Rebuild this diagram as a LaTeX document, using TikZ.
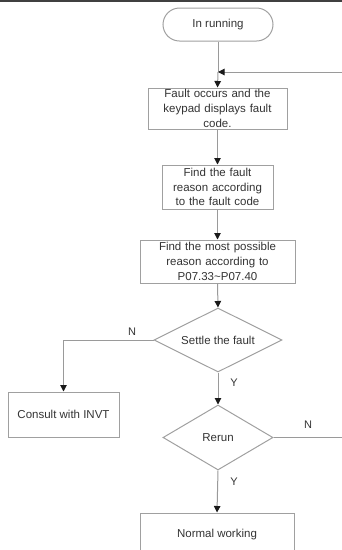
\documentclass[tikz,border=0pt]{standalone}
\usepackage{fontspec}
\setmainfont{Liberation Sans}
\usetikzlibrary{shapes.geometric,arrows.meta}
\definecolor{linegray}{HTML}{9A9A9A}
\definecolor{boxgray}{HTML}{A0A0A0}
\definecolor{textgray}{HTML}{333333}
\definecolor{tipgray}{HTML}{1A1A1A}
\begin{document}
\begin{tikzpicture}[x=1pt,y=-1pt,
  every node/.style={text=textgray,font=\fontsize{11.5}{14.8}\selectfont},
  boxnode/.style={draw=boxgray,line width=1pt,rectangle,inner sep=0pt,align=center},
  termnode/.style={draw=boxgray,line width=1pt,rectangle,rounded corners=16.5pt,inner sep=0pt,minimum width=110pt,minimum height=33pt},
  decnode/.style={draw=boxgray,line width=1pt,diamond,aspect=2,inner sep=0pt},
  conn/.style={draw=linegray,line width=1pt},
  arr/.style={conn,-{Triangle[width=6.5pt,length=6.5pt,fill=tipgray,color=tipgray]}},
  lbl/.style={font=\fontsize{11}{13}\selectfont}
]
\useasboundingbox (0,0) rectangle (342,550);
\draw[line width=2.4pt,color=black!75] (0,1) -- (342,1);

\node[termnode] (run) at (218,24.5) {In running};
\node[boxnode,minimum width=139pt,minimum height=41pt,text width=135pt] (b1) at (217.5,108.5) {Fault occurs and the\\keypad displays fault\\code.};
\node[boxnode,minimum width=111pt,minimum height=44pt,text width=108pt] (b2) at (217.5,187) {Find the fault\\reason according\\to the fault code};
\node[boxnode,minimum width=155pt,minimum height=43pt,text width=150pt] (b3) at (217.5,261.5) {Find the most possible\\reason according to\\P07.33\textasciitilde P07.40};
\node[decnode,minimum width=128pt,minimum height=64pt] (d1) at (218,340) {Settle the fault};
\node[boxnode,minimum width=111pt,minimum height=45pt] (inv) at (63.5,414.5) {Consult with INVT};
\node[decnode,minimum width=110pt,minimum height=65pt] (d2) at (218,437.5) {Rerun};
\node[boxnode,minimum width=154pt,minimum height=43pt] (nw) at (217,534.5) {Normal working};

\coordinate (j) at (218,72);
\coordinate (rin) at (342,72);
\coordinate (rout) at (342,437.5);

\draw[conn] (run.south) -- (j);
\draw[arr] (j) -- (b1.north);
\draw[arr] (rin) -- (j);
\draw[arr] (b1.south) -- (b2.north);
\draw[arr] (b2.south) -- (b3.north);
\draw[arr] (b3.south) -- (d1.north);
\draw[arr] (d1.west) -| (inv.north);
\draw[arr] (d1.south) -- (d2.north);
\draw[arr] (d2.south) -- (nw.north);
\draw[conn] (d2.east) -- (rout);

\node[lbl] (n1) at (132,332) {N};
\node[lbl] (y1) at (234,383) {Y};
\node[lbl] (n2) at (308,425) {N};
\node[lbl] (y2) at (234,482) {Y};
\end{tikzpicture}
\end{document}
